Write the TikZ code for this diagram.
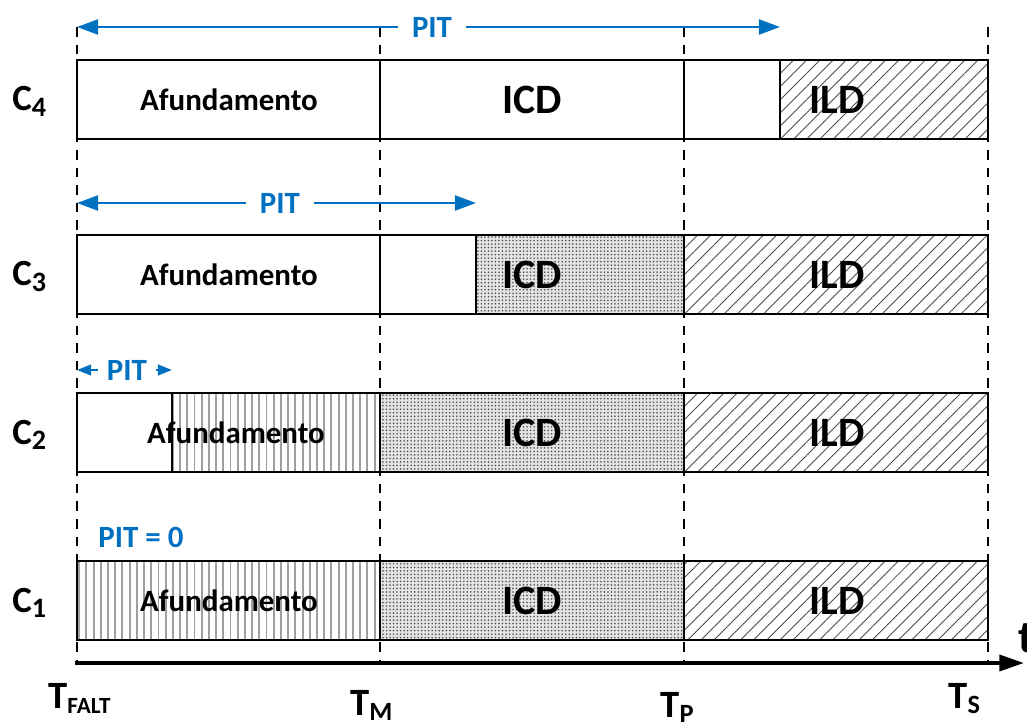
\documentclass[tikz,border=0pt]{standalone}
\usepackage{fontspec}
\setmainfont{Carlito}
\usetikzlibrary{arrows.meta,patterns.meta}
\definecolor{pitblue}{HTML}{0070C0}
\tikzset{seg/.style={draw=black,line width=0.9pt},
  afund/.style={seg,pattern={Lines[angle=90,distance=4.1pt,line width=1.1pt]},pattern color=gray!75},
  icd/.style={seg,preaction={fill=gray!22},pattern={Dots[distance=2pt,radius=0.5pt]},pattern color=black!70},
  ild/.style={seg,pattern={Lines[angle=45,distance=5.3pt,line width=0.5pt]},pattern color=black!70},
  guide/.style={line width=0.8pt,dash pattern=on 5.5pt off 4.5pt},
  lbl/.style={font=\fontsize{17.6}{20}\selectfont\bfseries},
  big/.style={font=\fontsize{23.8}{26}\selectfont\bfseries},
  rowlbl/.style={anchor=base west,inner sep=0pt,font=\fontsize{21}{23}\selectfont\bfseries},
  tlbl/.style={anchor=base west,inner sep=0pt,font=\fontsize{22}{24}\selectfont\bfseries},
  pitlbl/.style={text=pitblue,inner xsep=8pt,inner ysep=2pt,font=\fontsize{17.6}{20}\selectfont\bfseries},
  pitarrow/.style={-{Triangle[length=12pt,width=8.5pt]},line width=1.4pt,draw=pitblue},
  smallarrow/.style={-{Triangle[length=8pt,width=6pt]},line width=1.4pt,draw=pitblue},
  axis/.style={-{Triangle[length=14pt,width=9pt]},line width=2.3pt}}
\newcommand{\lowsub}[2]{\raisebox{-0.3ex}{\fontsize{#1}{#1}\selectfont #2}}

\begin{document}
\begin{tikzpicture}[x=0.02cm,y=-0.02cm]
\useasboundingbox (0,0) rectangle (1027,722);
% dashed time guides
\foreach \gx in {77,380,684,988}
  \draw[guide] (\gx,27) -- (\gx,663);
% row C4
\draw[seg] (77,60) rectangle (780,139);
\draw[ild] (780,60) rectangle (988,139);
\draw[seg] (380,60) -- (380,139) (684,60) -- (684,139);
\node[lbl] (af4) at (229,100) {Afundamento};
\node[big] (icd4) at (532,100) {ICD};
\node[big] (ild4) at (837,100) {ILD};
\node[rowlbl] (c4) at (12,111) {C\lowsub{16}{4}};
% row C3
\draw[seg] (77,235) rectangle (476,314);
\draw[icd] (476,235) rectangle (684,314);
\draw[ild] (684,235) rectangle (988,314);
\draw[seg] (380,235) -- (380,314);
\node[lbl] (af3) at (229,275) {Afundamento};
\node[big] (icd3) at (532,275) {ICD};
\node[big] (ild3) at (837,275) {ILD};
\node[rowlbl] (c3) at (12,286) {C\lowsub{16}{3}};
% row C2
\draw[seg] (77,393) rectangle (172,472);
\draw[afund] (172,393) rectangle (380,472);
\draw[icd] (380,393) rectangle (684,472);
\draw[ild] (684,393) rectangle (988,472);
\node[lbl] (af2) at (236,433) {Afundamento};
\node[big] (icd2) at (532,433) {ICD};
\node[big] (ild2) at (837,433) {ILD};
\node[rowlbl] (c2) at (12,444) {C\lowsub{16}{2}};
% row C1
\draw[afund] (77,561) rectangle (380,640);
\draw[icd] (380,561) rectangle (684,640);
\draw[ild] (684,561) rectangle (988,640);
\node[lbl] (af1) at (229,601) {Afundamento};
\node[big] (icd1) at (532,601) {ICD};
\node[big] (ild1) at (837,601) {ILD};
\node[rowlbl] (c1) at (12,612) {C\lowsub{16}{1}};
% PIT spans
\node[pitlbl] (pit4) at (432,27) {PIT};
\coordinate (pit4a) at (77,27);
\coordinate (pit4b) at (780,27);
\draw[pitarrow] (pit4) -- (pit4a);
\draw[pitarrow] (pit4) -- (pit4b);
\node[pitlbl] (pit3) at (280,203) {PIT};
\coordinate (pit3a) at (77,203);
\coordinate (pit3b) at (476,203);
\draw[pitarrow] (pit3) -- (pit3a);
\draw[pitarrow] (pit3) -- (pit3b);
\node[pitlbl,inner xsep=5pt] (pit2) at (127,370) {PIT};
\coordinate (pit2a) at (77,370);
\coordinate (pit2b) at (172,370);
\draw[smallarrow] (pit2) -- (pit2a);
\draw[smallarrow] (pit2) -- (pit2b);
\node[pitlbl] (pit1) at (141,537) {PIT = 0};
% time axis
\coordinate (t0) at (75,663);
\coordinate (t1) at (1024,663);
\draw[axis] (t0) -- (t1);
\node[anchor=base west,inner sep=0pt,font=\fontsize{26}{28}\selectfont\bfseries] (tt) at (1018,652) {t};
\node[tlbl] (tfalt) at (48,708) {T\lowsub{13.2}{FALT}};
\node[tlbl] (tm) at (350,715) {T\lowsub{15}{M}};
\node[tlbl] (tp) at (660,717) {T\lowsub{15}{P}};
\node[tlbl] (ts) at (948,708) {T\lowsub{15}{S}};
\end{tikzpicture}
\end{document}
